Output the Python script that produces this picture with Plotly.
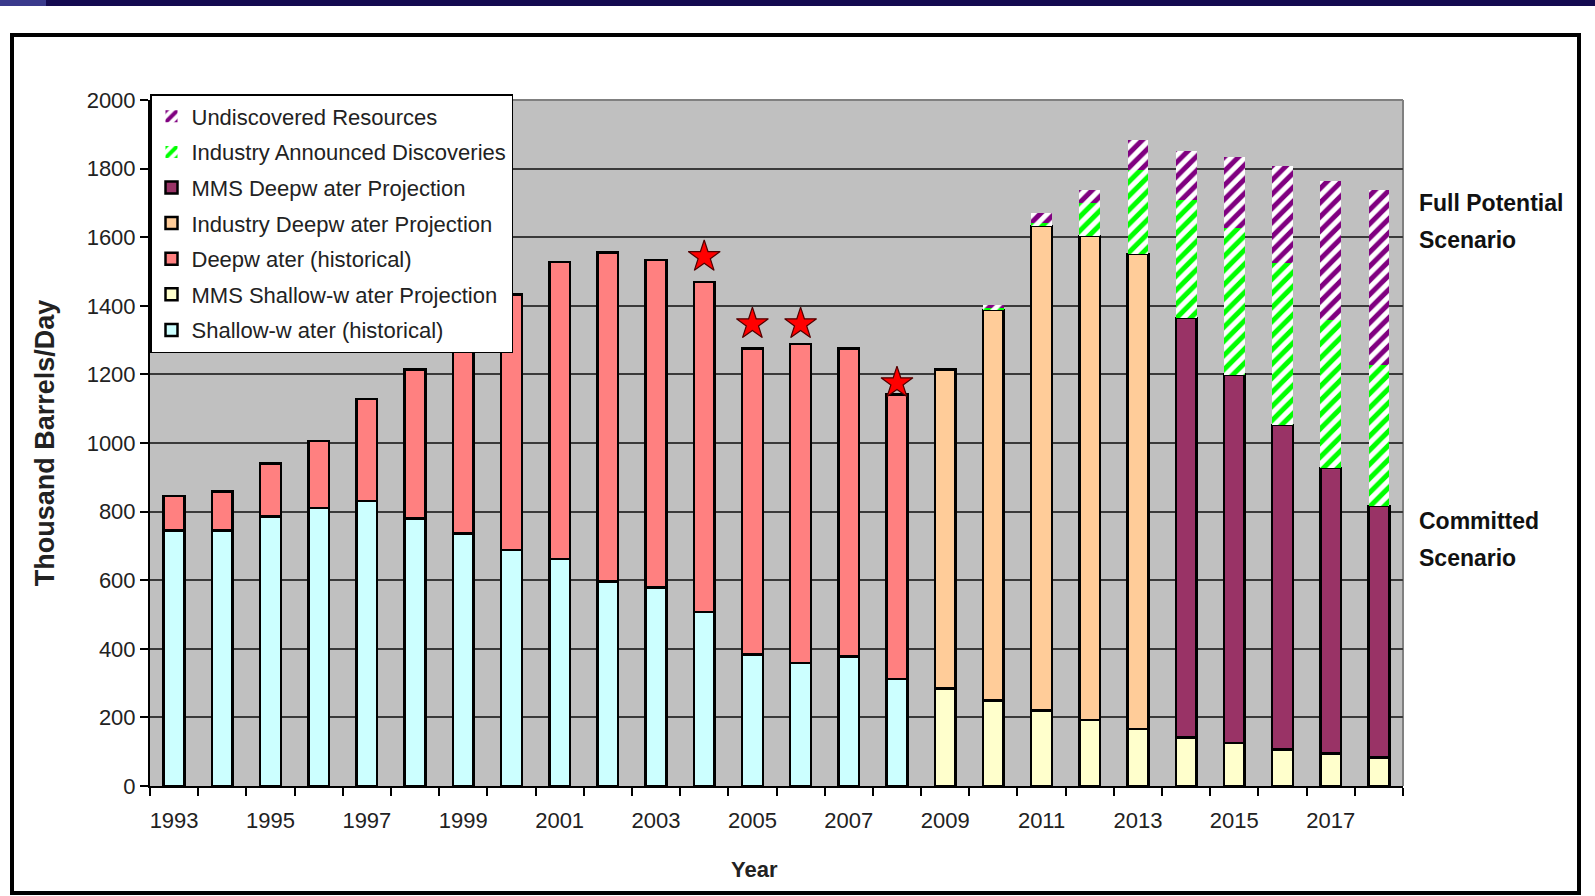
import plotly.graph_objects as go

years = list(range(1993, 2019))
N = None

shallow_hist = [745, 745, 786, 810, 831, 780, 736, 688, 662, 596, 579, 507, 383, 359, 377, 312,
                N, N, N, N, N, N, N, N, N, N]
deep_hist = [100, 113, 154, 196, 297, 434, 584, 745, 866, 959, 955, 962, 893, 929, 899, 830,
             N, N, N, N, N, N, N, N, N, N]
mms_shallow = [N] * 16 + [285, 249, 220, 193, 166, 142, 125, 107, 95, 83]
industry_deep = [N] * 16 + [929, 1139, 1412, 1411, 1385, N, N, N, N, N]
mms_deep = [N] * 21 + [1222, 1074, 946, 832, 733]
announced = [N] * 17 + [6, 8, 96, 246, 345, 428, 472, 432, 412]
undiscovered = [N] * 17 + [8, 31, 37, 85, 143, 207, 284, 406, 511]

star_years = [2004, 2005, 2006, 2008]
star_values = [1543, 1347, 1347, 1175]

tick_years = list(range(1993, 2018, 2))
ytick_vals = list(range(0, 2001, 200))

FONT = "Liberation Sans, Arial, sans-serif"
W, H = 1595, 896
L, R, T, B = 150, 1403, 100, 786   # plot area in page pixels


def px(x):
    return (x - L) / (R - L)


def py(y):
    return (B - y) / (B - T)


fig = go.Figure()
BW = 0.43
OUT = dict(color="black", width=2.5)

series = [
    ("Shallow-w ater (historical)", shallow_hist, "#CCFFFF", 7),
    ("MMS Shallow-w ater Projection", mms_shallow, "#FFFFCC", 6),
    ("Deepw ater (historical)", deep_hist, "#FF8080", 5),
    ("Industry Deepw ater Projection", industry_deep, "#FFCC99", 4),
    ("MMS Deepw ater Projection", mms_deep, "#993366", 3),
]
for i, (name, vals, col, rank) in enumerate(series):
    fig.add_trace(go.Bar(x=years, y=vals, name=name, width=BW, legendgroup=f"g{i}",
                         legendrank=rank, marker=dict(color=col, line=OUT)))

hatched = [
    ("Industry Announced Discoveries", announced, "#00FF00", 2),
    ("Undiscovered Resources", undiscovered, "#800080", 1),
]
for j, (name, vals, col, rank) in enumerate(hatched):
    fig.add_trace(go.Bar(x=years, y=vals, name=name, width=BW, legendgroup=f"h{j}",
                         legendrank=rank,
                         marker=dict(color="white", line=dict(width=0),
                                     pattern=dict(shape="/", fgcolor=col, bgcolor="white",
                                                  fgopacity=1, size=10, solidity=0.5,
                                                  fillmode="replace"))))

fig.add_trace(go.Scatter(x=star_years, y=star_values, mode="markers", showlegend=False,
                         marker=dict(symbol="star", size=24, color="#FF0000",
                                     line=dict(color="#500000", width=1.2))))

shapes = [
    dict(type="rect", xref="paper", yref="paper", x0=px(0), x1=px(W), y0=py(6), y1=py(0),
         fillcolor="#140A50", line=dict(width=0), layer="above"),
    dict(type="rect", xref="paper", yref="paper", x0=px(0), x1=px(46), y0=py(6), y1=py(0),
         fillcolor="#3A3A8C", line=dict(width=0), layer="above"),
    dict(type="rect", xref="paper", yref="paper", x0=px(12), x1=px(1579), y0=py(893), y1=py(35),
         line=dict(color="black", width=4), layer="above"),
    dict(type="line", xref="paper", yref="paper", x0=0, x1=1, y0=1, y1=1,
         line=dict(color="#808080", width=2), layer="below"),
    dict(type="line", xref="paper", yref="paper", x0=1, x1=1, y0=0, y1=1,
         line=dict(color="#808080", width=2), layer="below"),
]

ann_font = dict(family=FONT, size=23, color="#111111")
annotations = []
for text, ypix in [("<b>Full Potential</b>", 203), ("<b>Scenario</b>", 240),
                   ("<b>Committed</b>", 521), ("<b>Scenario</b>", 558)]:
    annotations.append(dict(text=text, xref="paper", yref="paper", x=px(1417), y=py(ypix),
                            xanchor="left", yanchor="middle", showarrow=False, font=ann_font))
annotations.append(dict(text="<b>Year</b>", xref="paper", yref="paper", x=px(754), y=py(869),
                        xanchor="center", yanchor="middle", showarrow=False,
                        font=dict(family=FONT, size=22, color="#222222")))

fig.update_layout(
    width=W, height=H,
    margin=dict(l=L, r=W - R, t=T, b=H - B, pad=0),
    paper_bgcolor="white",
    plot_bgcolor="#C0C0C0",
    barmode="stack",
    font=dict(family=FONT, size=22, color="#222222"),
    showlegend=True,
    legend=dict(x=0, y=py(94), xanchor="left", yanchor="top", bgcolor="white",
                bordercolor="black", borderwidth=1.5, traceorder="grouped",
                tracegroupgap=4, font=dict(family=FONT, size=22, color="#222222"),
                itemclick=False),
    shapes=shapes,
    annotations=annotations,
    xaxis=dict(range=[1992.5, 2018.5], tickmode="array", tickvals=tick_years,
               ticktext=[str(y) for y in tick_years], ticks="", showgrid=False,
               showline=True, linecolor="black", linewidth=2, zeroline=False,
               ticklabelstandoff=14, tickfont=dict(size=22),
               minor=dict(ticks="outside", tick0=1992.5, dtick=1, ticklen=8,
                          tickcolor="black", tickwidth=1.5, showgrid=False)),
    yaxis=dict(range=[0, 2000], tickmode="array", tickvals=ytick_vals,
               ticks="outside", ticklen=8, tickcolor="black", tickwidth=1.5,
               showgrid=True, gridcolor="#3A3A3A", gridwidth=1.5,
               showline=True, linecolor="black", linewidth=2, zeroline=False,
               tickfont=dict(size=22),
               title=dict(text="<b>Thousand Barrels/Day</b>", standoff=24,
                          font=dict(family=FONT, size=27, color="#222222"))),
)

fig.write_html("out.html", config={"displayModeBar": False},
               post_script="document.body.style.margin='0';")
